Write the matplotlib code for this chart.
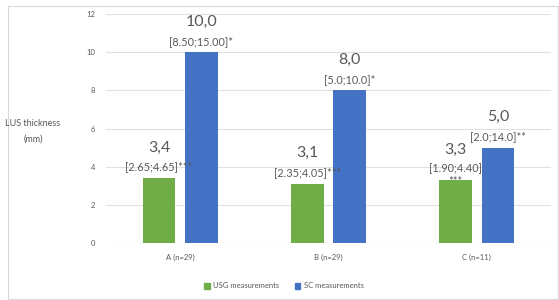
import matplotlib.pyplot as plt
import matplotlib.patches as mpatches
import numpy as np

# --- data ---
groups = ["A (n=29)", "B (n=29)", "C (n=11)"]
usg_values = [3.4, 3.1, 3.3]
sc_values = [10.0, 8.0, 5.0]
usg_labels = ["3,4", "3,1", "3,3"]
sc_labels = ["10,0", "8,0", "5,0"]
usg_ranges = ["[2.65;4.65]***", "[2.35;4.05]***", "[1.90;4.40]"]
sc_ranges = ["[8.50;15.00]*", "[5.0;10.0]*", "[2.0;14.0]**"]
y_ticks = [0, 2, 4, 6, 8, 10, 12]

green = "#70AD47"
blue = "#4472C4"
gray = "#595959"

plt.rcParams['font.family'] = ['Lato', 'DejaVu Sans']

fig = plt.figure(figsize=(5.59, 3.0), dpi=100)
ax = fig.add_axes([106 / 559, 1 - 243 / 300, 445 / 559, 229 / 300])

x = np.arange(len(groups))
off = 0.143
width = 0.22

ax.bar(x - off, usg_values, width, color=green, label="USG measurements", zorder=3)
ax.bar(x + off, sc_values, width, color=blue, label="SC measurements", zorder=3)

# value labels and ranges above bars
for i in range(len(groups)):
    for xi, val, lab, rng in [(x[i] - off, usg_values[i], usg_labels[i], usg_ranges[i]),
                              (x[i] + off, sc_values[i], sc_labels[i], sc_ranges[i])]:
        ax.annotate(lab, (xi, val), xytext=(0, 17), textcoords="offset points",
                    ha="center", va="bottom", fontsize=11.5, color=gray)
        ax.annotate(rng, (xi, val), xytext=(0, 4), textcoords="offset points",
                    ha="center", va="bottom", fontsize=7.8, color=gray)
# stars for group C green wrap onto a second line
ax.annotate("***", (x[2] - off, usg_values[2]), xytext=(0, -5), textcoords="offset points",
            ha="center", va="bottom", fontsize=7.8, color=gray, zorder=4)

ax.set_xlim(-0.5, 2.5)
ax.set_ylim(0, 12)
ax.set_yticks(y_ticks)
ax.set_xticks(x)
ax.set_xticklabels(groups)
ax.tick_params(axis="both", length=0, labelsize=5.5, labelcolor=gray)
ax.tick_params(axis="x", pad=8)
ax.tick_params(axis="y", pad=8)
ax.grid(axis="y", color="#E0E0E0", linewidth=0.8, zorder=0)
for s in ax.spines.values():
    s.set_visible(False)
ax.axhline(0, color="#D9D9D9", linewidth=0.8, zorder=2)

fig.text(33 / 559, 1 - 131 / 300, "LUS thickness\n(mm)", ha="center", va="center",
         fontsize=6.5, color=gray, linespacing=2.0)

handles = [mpatches.Patch(color=green, label="USG measurements"),
           mpatches.Patch(color=blue, label="SC measurements")]
fig.legend(handles=handles, loc="center", bbox_to_anchor=(284 / 559, 1 - 286 / 300),
           ncol=2, frameon=False, fontsize=5.5, labelcolor=gray,
           handlelength=0.7, handleheight=0.7, columnspacing=2.0, handletextpad=0.5)

fig.patches.append(mpatches.Rectangle((8 / 559, 0.005), 550 / 559, 1 - 6 / 300 - 0.005,
                                      transform=fig.transFigure, fill=False,
                                      edgecolor="#D9D9D9", linewidth=0.8))

fig.savefig("out.png", dpi=100)
